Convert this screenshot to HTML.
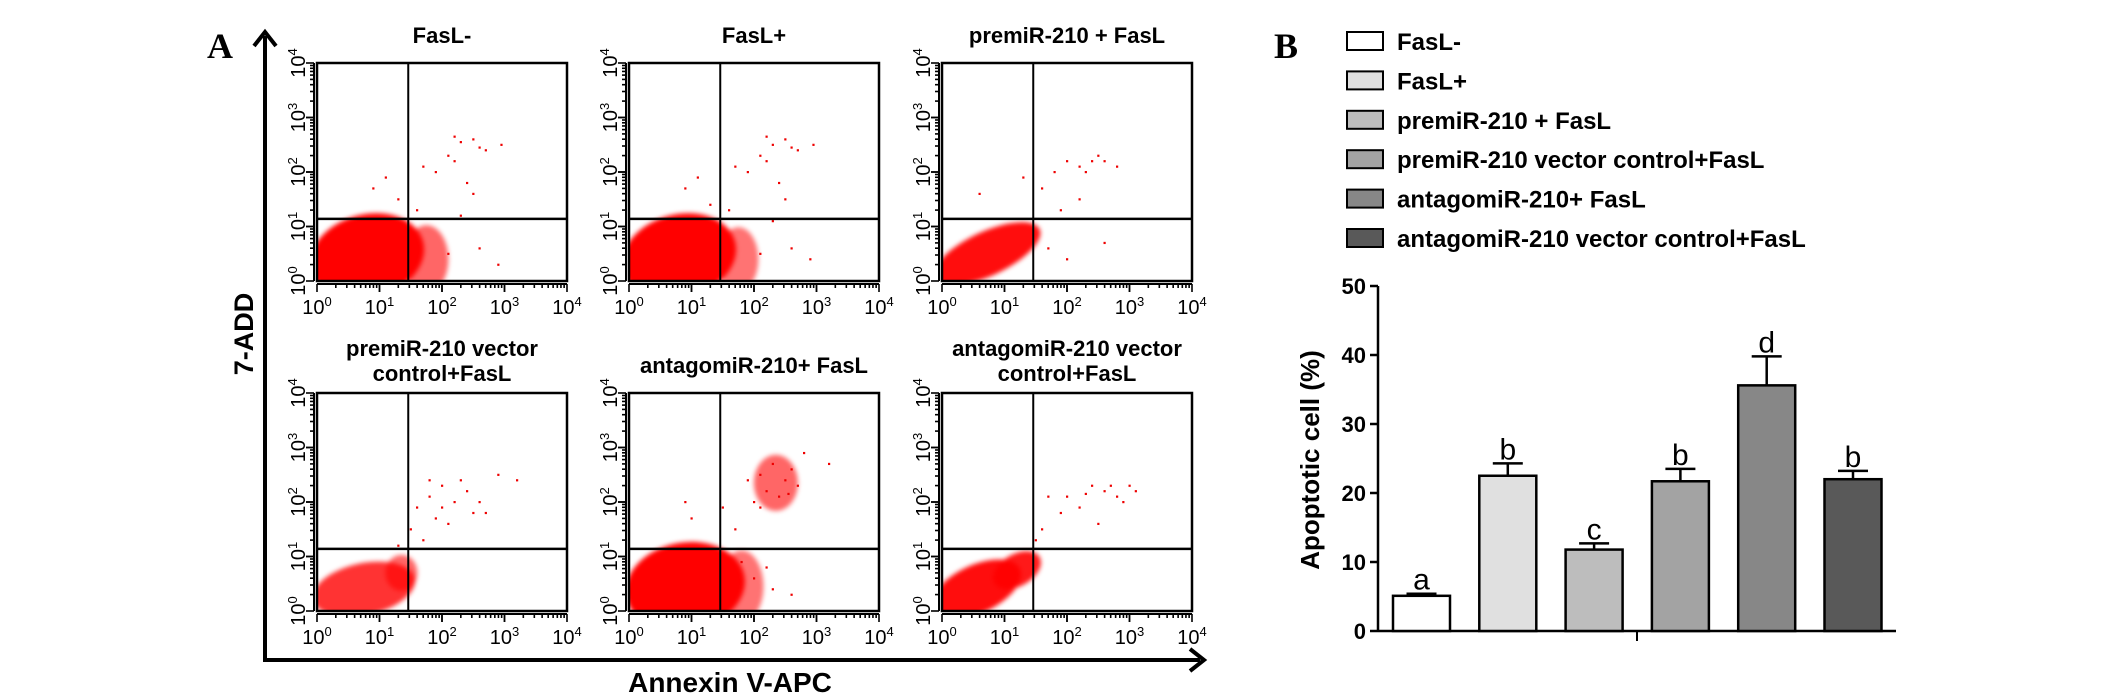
<!DOCTYPE html>
<html><head><meta charset="utf-8"><style>
html,body{margin:0;padding:0;background:#fff;width:2126px;height:698px;overflow:hidden}
svg{display:block}
text{font-family:"Liberation Sans",Arial,sans-serif}
</style></head><body>
<svg id="fig" width="2126" height="698" viewBox="0 0 2126 698" xmlns="http://www.w3.org/2000/svg">
<defs>
<clipPath id="cp0"><rect x="317" y="63" width="250" height="218"/></clipPath>
<clipPath id="cp1"><rect x="629" y="63" width="250" height="218"/></clipPath>
<clipPath id="cp2"><rect x="942" y="63" width="250" height="218"/></clipPath>
<clipPath id="cp3"><rect x="317" y="393" width="250" height="218"/></clipPath>
<clipPath id="cp4"><rect x="629" y="393" width="250" height="218"/></clipPath>
<clipPath id="cp5"><rect x="942" y="393" width="250" height="218"/></clipPath>
<filter id="soft" x="-20%" y="-20%" width="140%" height="140%"><feGaussianBlur stdDeviation="2.5"/></filter>
</defs>
<text x="207" y="58" font-weight="bold" font-size="36" style="font-family:'Liberation Serif',serif">A</text>
<text x="1274" y="58" font-weight="bold" font-size="36" style="font-family:'Liberation Serif',serif">B</text>
<g>
<line x1="265" y1="662" x2="265" y2="36" stroke="#000" stroke-width="4"/>
<path d="M254 46 L265 32 L276 46" fill="none" stroke="#000" stroke-width="4"/>
</g>
<g>
<line x1="263" y1="660" x2="1200" y2="660" stroke="#000" stroke-width="4"/>
<path d="M1190 649 L1204 660 L1190 671" fill="none" stroke="#000" stroke-width="4"/>
</g>
<text transform="translate(253,334) rotate(-90)" text-anchor="middle" font-weight="bold" font-size="27">7-ADD</text>
<text x="730" y="692" text-anchor="middle" font-weight="bold" font-size="28">Annexin V-APC</text>
<g id="flow"></g>
<g id="bars"></g>
</svg>
<script>
// ---- Flow cytometry panels ----
const panelTitles = [["FasL-"],["FasL+"],["premiR-210 + FasL"],["premiR-210 vector","control+FasL"],["antagomiR-210+ FasL"],["antagomiR-210 vector","control+FasL"]];
const panelNames = ["fasl-minus","fasl-plus","premir210-fasl","premir210-vector-fasl","antagomir210-fasl","antagomir210-vector-fasl"];
const gateX = [1.46,1.46,1.46,1.46,1.46,1.46];
const gateY = [1.14,1.14,1.14,1.14,1.14,1.14];
// blobs: [log x, log y, rx(px), ry(px), rotation]
const blobs0 = [[0.8,0.45,58,42,-15],[1.75,0.4,22,34,0]];
const blobs1 = [[0.8,0.45,58,42,-15],[1.75,0.4,20,32,0]];
const blobs2 = [[0.72,0.5,58,22,-25]];
const blobs3 = [[0.75,0.4,52,26,-12],[1.35,0.7,16,18,0]];
const blobs4 = [[0.9,0.45,60,44,-10],[1.8,0.45,22,36,0],[2.35,2.35,22,28,0]];
const blobs5 = [[0.55,0.4,48,24,-25],[1.2,0.75,26,16,-30]];
const blobOpacity = [[1,0.6],[1,0.55],[0.95],[0.8,0.6],[1,0.55,0.6],[0.95,0.9]];
const dots0 = [[2.2,2.65],[2.3,2.55],[2.5,2.6],[2.6,2.45],[2.95,2.5],[2.1,2.3],[2.2,2.2],[1.7,2.1],[1.9,2.0],[2.4,1.8],[2.5,1.6],[0.9,1.7],[1.1,1.9],[1.6,1.3],[2.1,0.5],[2.6,0.6],[2.9,0.3],[1.3,1.5],[2.3,1.2],[2.7,2.4]];
const dots1 = [[2.2,2.65],[2.3,2.5],[2.5,2.6],[2.6,2.45],[2.95,2.5],[2.1,2.3],[2.2,2.2],[1.7,2.1],[1.9,2.0],[2.4,1.8],[2.5,1.5],[0.9,1.7],[1.1,1.9],[1.6,1.3],[2.1,0.5],[2.6,0.6],[2.9,0.4],[1.3,1.4],[2.3,1.1],[2.7,2.4]];
const dots2 = [[2.0,2.2],[2.2,2.1],[2.4,2.2],[2.6,2.2],[2.8,2.1],[1.8,2.0],[1.6,1.7],[1.3,1.9],[0.6,1.6],[2.2,1.5],[1.9,1.3],[2.6,0.7],[2.0,0.4],[1.7,0.6],[2.3,2.0],[2.5,2.3]];
const dots3 = [[1.6,1.9],[1.8,2.1],[2.0,2.3],[2.2,2.0],[2.4,2.2],[2.6,2.0],[1.9,1.7],[2.1,1.6],[2.7,1.8],[1.5,1.5],[1.3,1.2],[2.9,2.5],[3.2,2.4],[1.7,1.3],[2.3,2.4],[2.0,1.9],[2.5,1.8],[1.8,2.4]];
const dots4 = [[2.1,2.5],[2.3,2.7],[2.5,2.4],[2.4,2.1],[2.2,2.2],[2.6,2.6],[2.7,2.3],[2.0,2.0],[1.9,2.4],[1.5,1.9],[1.7,1.5],[2.8,2.9],[3.2,2.7],[1.0,1.7],[0.9,2.0],[2.0,0.6],[2.3,0.4],[2.6,0.3],[1.8,0.9],[2.2,0.8],[2.55,2.15],[2.1,1.9]];
const dots5 = [[1.7,2.1],[2.0,2.1],[2.3,2.15],[2.6,2.2],[2.8,2.1],[3.0,2.3],[2.2,1.9],[1.6,1.5],[1.5,1.3],[2.5,1.6],[1.9,1.8],[2.9,2.0],[3.1,2.2],[2.4,2.3],[2.7,2.3]];
const allBlobs = [blobs0,blobs1,blobs2,blobs3,blobs4,blobs5];
const allDots = [dots0,dots1,dots2,dots3,dots4,dots5];
const decadeLabels = ["0","1","2","3","4"];

const NS = "http://www.w3.org/2000/svg";
function mk(tag, attrs, parent){ const e=document.createElementNS(NS,tag); for(const k in attrs) e.setAttribute(k,attrs[k]); parent.appendChild(e); return e; }
const lefts=[317,629,942], tops=[63,393], PW=250, PH=218;
const flow=document.getElementById('flow');
for(let p=0;p<6;p++){
  const L=lefts[p%3], T=tops[Math.floor(p/3)];
  const sx=v=>L+v/4*PW, sy=v=>T+PH-v/4*PH;
  const g=mk('g',{},flow);
  
  
  const lines=panelTitles[p];
  lines.forEach((ln,i)=>{
    const base = lines.length===1 ? T-20 : T-37+i*25;
    const t=mk('text',{x:L+PW/2,y:base,'text-anchor':'middle','font-weight':'bold','font-size':22},g);
    t.textContent=ln;
    
    
  });
  const cg=mk('g',{'clip-path':'url(#cp'+p+')'},g);
  const bg=mk('g',{filter:'url(#soft)'},cg);
  allBlobs[p].forEach((b,i)=>{
    const e=mk('ellipse',{cx:sx(b[0]),cy:sy(b[1]),rx:b[2],ry:b[3],fill:'#f00','fill-opacity':blobOpacity[p][i],transform:'rotate('+b[4]+' '+sx(b[0])+' '+sy(b[1])+')'},bg);
    
    
  });
  allDots[p].forEach(d=>{
    const c=mk('rect',{x:sx(d[0])-1,y:sy(d[1])-1,width:2.2,height:2.2,fill:'#e00'},cg);
    
    
  });
  const box=mk('rect',{x:L,y:T,width:PW,height:PH,fill:'none',stroke:'#000','stroke-width':2.5},g);
  
  
  const gv=mk('line',{x1:sx(gateX[p]),y1:T,x2:sx(gateX[p]),y2:T+PH,stroke:'#000','stroke-width':2},g);
  
  
  const gh=mk('line',{x1:L,y1:sy(gateY[p]),x2:L+PW,y2:sy(gateY[p]),stroke:'#000','stroke-width':2.5},g);
  
  
  mk('line',{x1:L,y1:T+PH+3,x2:L+PW,y2:T+PH+3,stroke:'#000','stroke-width':2},g);
  mk('line',{x1:L-3,y1:T,x2:L-3,y2:T+PH,stroke:'#000','stroke-width':2},g);
  for(let d=0;d<4;d++){
    for(let m=1;m<=10;m++){
      const v=d+Math.log10(m);
      const len = (m===1||m===10)?8:4;
      mk('line',{x1:sx(v),y1:T+PH+3,x2:sx(v),y2:T+PH+3+len,stroke:'#000','stroke-width':1.6},g);
      mk('line',{x1:L-3,y1:sy(v),x2:L-3-len,y2:sy(v),stroke:'#000','stroke-width':1.6},g);
    }
  }
  decadeLabels.forEach((lab,i)=>{
    const tx=mk('text',{x:sx(i),y:T+PH+33,'text-anchor':'middle','font-size':20},g);
    tx.innerHTML='10<tspan dy="-8" font-size="13">'+lab+'</tspan>';
    
    
    const ty=mk('text',{transform:'translate('+(L-12)+','+sy(i)+') rotate(-90)','text-anchor':'middle','font-size':20},g);
    ty.innerHTML='10<tspan dy="-8" font-size="13">'+lab+'</tspan>';
    
    
  });
}

// ---- Bar chart ----
const groups = ["FasL-","FasL+","premiR-210 + FasL","premiR-210 vector control+FasL","antagomiR-210+ FasL","antagomiR-210 vector control+FasL"];
const means = [5.1,22.5,11.8,21.7,35.6,22.0];
const errTops = [5.4,24.3,12.7,23.5,39.8,23.2];
const sigLetters = ["a","b","c","b","d","b"];
const fills = ["#ffffff","#e0e0e0","#bdbdbd","#a3a3a3","#878787","#595959"];
const yTicks = [0,10,20,30,40,50];

const bars=document.getElementById('bars');
const y0=631, yScale=6.9, xAxisL=1378, xAxisR=1896;
const yv=v=>y0-v*yScale;
const bx=i=>1393+i*86.3;
const BW=57;
groups.forEach((gname,i)=>{
  const ly=41+i*39.4;
  const r=mk('rect',{x:1347,y:ly-9,width:36,height:18,fill:fills[i],stroke:'#000','stroke-width':2},bars);
  
  
  const t=mk('text',{x:1397,y:ly+9,'font-weight':'bold','font-size':24},bars);
  t.textContent=gname;
  
  
});
const ya=mk('line',{x1:xAxisL,y1:yv(50),x2:xAxisL,y2:y0+1,stroke:'#000','stroke-width':2.5},bars);


const xa=mk('line',{x1:xAxisL,y1:y0,x2:xAxisR,y2:y0,stroke:'#000','stroke-width':2.5},bars);


mk('line',{x1:(xAxisL+xAxisR)/2,y1:y0,x2:(xAxisL+xAxisR)/2,y2:y0+10,stroke:'#000','stroke-width':2},bars);
yTicks.forEach(v=>{
  mk('line',{x1:xAxisL-8,y1:yv(v),x2:xAxisL,y2:yv(v),stroke:'#000','stroke-width':2.5},bars);
  const t=mk('text',{x:xAxisL-12,y:yv(v)+8,'text-anchor':'end','font-weight':'bold','font-size':22},bars);
  t.textContent=v;
  
  
});
const yt=mk('text',{transform:'translate(1319,460) rotate(-90)','text-anchor':'middle','font-weight':'bold','font-size':26},bars);
yt.textContent='Apoptotic cell (%)';


means.forEach((m,i)=>{
  const cx=bx(i)+BW/2;
  const el=mk('line',{x1:cx,y1:yv(m),x2:cx,y2:yv(errTops[i]),stroke:'#000','stroke-width':2.5},bars);
  
  
  mk('line',{x1:cx-15,y1:yv(errTops[i]),x2:cx+15,y2:yv(errTops[i]),stroke:'#000','stroke-width':2.5},bars);
  const r=mk('rect',{x:bx(i),y:yv(m),width:BW,height:y0-yv(m),fill:fills[i],stroke:'#000','stroke-width':2.5},bars);
  
  
  const t=mk('text',{x:cx,y:yv(errTops[i])-4,'text-anchor':'middle','font-size':30},bars);
  t.textContent=sigLetters[i];
  
  
});
</script>
</body></html>
